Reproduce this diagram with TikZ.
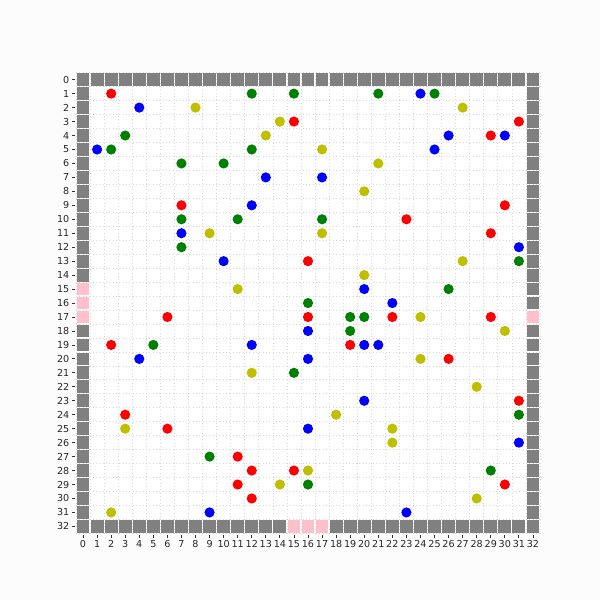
\documentclass[tikz,border=0pt]{standalone}
\usepackage{fontspec}
\setmainfont{DejaVu Sans}
\definecolor{mred}{HTML}{FF0000}
\definecolor{mblue}{HTML}{0000FF}
\definecolor{mgreen}{HTML}{008000}
\definecolor{myellow}{HTML}{BFBF00}
\definecolor{wallgray}{HTML}{808080}
\definecolor{mpink}{HTML}{FFC0CB}
\definecolor{gridgray}{HTML}{D8D8D8}
\definecolor{figbg}{HTML}{FCFCFC}
\begin{document}
\begin{tikzpicture}[x=0.75pt,y=-0.75pt,
  ticklabel/.style={font=\fontsize{7.2pt}{8pt}\selectfont, inner sep=0pt, text=black!85},
  gridline/.style={gridgray, dotted, line width=0.5pt},
  tickmark/.style={black!80, line width=0.6pt}]
\def\cw{14.06}
\def\ch{13.96}
\def\xo{76}
\def\yo{72.7}
\useasboundingbox (0,0) rectangle (600,600);
\fill[figbg] (0,0) rectangle (600,600);
\fill[white] (\xo,\yo) rectangle ({\xo+33*\cw},{\yo+33*\ch});
% dotted grid
\foreach \k in {0,...,33} {
  \draw[gridline] ({\xo+\k*\cw},\yo) -- ({\xo+\k*\cw},{\yo+33*\ch});
  \draw[gridline] (\xo,{\yo+\k*\ch}) -- ({\xo+33*\cw},{\yo+\k*\ch});
}
% wall cells
\newcommand{\wallcell}[3]{\fill[#3] ({\xo+#1*\cw+0.6},{\yo+#2*\ch+0.6}) rectangle ({\xo+(#1+1)*\cw-0.6},{\yo+(#2+1)*\ch-0.6});}
\foreach \k in {0,...,32} {
  \wallcell{\k}{0}{wallgray}
  \wallcell{\k}{32}{wallgray}
  \wallcell{0}{\k}{wallgray}
  \wallcell{32}{\k}{wallgray}
}
\foreach \c/\r in {0/15,0/16,0/17,32/17,15/32,16/32,17/32} {
  \wallcell{\c}{\r}{mpink}
}
% dots
\foreach \c/\r/\col in {
 2/1/mred,12/1/mgreen,15/1/mgreen,21/1/mgreen,24/1/mblue,25/1/mgreen,
 4/2/mblue,8/2/myellow,27/2/myellow,
 14/3/myellow,15/3/mred,31/3/mred,
 3/4/mgreen,13/4/myellow,26/4/mblue,29/4/mred,30/4/mblue,
 1/5/mblue,2/5/mgreen,12/5/mgreen,17/5/myellow,25/5/mblue,
 7/6/mgreen,10/6/mgreen,21/6/myellow,
 13/7/mblue,17/7/mblue,
 20/8/myellow,
 7/9/mred,12/9/mblue,30/9/mred,
 7/10/mgreen,11/10/mgreen,17/10/mgreen,23/10/mred,
 7/11/mblue,9/11/myellow,17/11/myellow,29/11/mred,
 7/12/mgreen,31/12/mblue,
 10/13/mblue,16/13/mred,27/13/myellow,31/13/mgreen,
 20/14/myellow,
 11/15/myellow,20/15/mblue,26/15/mgreen,
 16/16/mgreen,22/16/mblue,
 6/17/mred,16/17/mred,19/17/mgreen,20/17/mgreen,22/17/mred,24/17/myellow,29/17/mred,
 16/18/mblue,19/18/mgreen,30/18/myellow,
 2/19/mred,5/19/mgreen,12/19/mblue,19/19/mred,20/19/mblue,21/19/mblue,
 4/20/mblue,16/20/mblue,24/20/myellow,26/20/mred,
 12/21/myellow,15/21/mgreen,
 28/22/myellow,
 20/23/mblue,31/23/mred,
 3/24/mred,18/24/myellow,31/24/mgreen,
 3/25/myellow,6/25/mred,16/25/mblue,22/25/myellow,
 22/26/myellow,31/26/mblue,
 9/27/mgreen,11/27/mred,
 12/28/mred,15/28/mred,16/28/myellow,29/28/mgreen,
 11/29/mred,14/29/myellow,16/29/mgreen,30/29/mred,
 12/30/mred,28/30/myellow,
 2/31/myellow,9/31/mblue,23/31/mblue} {
  \fill[\col] ({\xo+(\c+0.5)*\cw},{\yo+(\r+0.5)*\ch}) circle (5.1);
}
% ticks and labels
\foreach \k in {0,...,32} {
  \draw[tickmark] ({\xo-1.5},{\yo+(\k+0.5)*\ch}) -- ({\xo-4.5},{\yo+(\k+0.5)*\ch});
  \node[ticklabel, anchor=east] (yl\k) at ({\xo-6.5},{\yo+(\k+0.5)*\ch}) {\k};
  \draw[tickmark] ({\xo+(\k+0.5)*\cw},{\yo+33*\ch+1.5}) -- ({\xo+(\k+0.5)*\cw},{\yo+33*\ch+4.5});
  \node[ticklabel, anchor=north] (xl\k) at ({\xo+(\k+0.5)*\cw},{\yo+33*\ch+7}) {\k};
}
\end{tikzpicture}
\end{document}
